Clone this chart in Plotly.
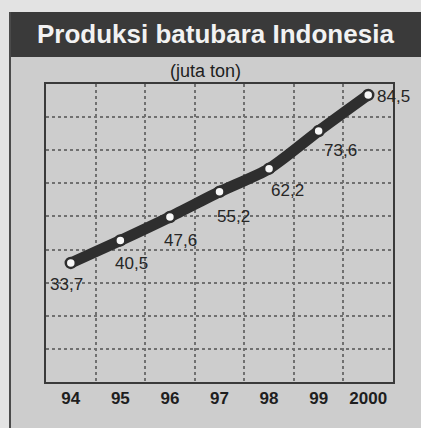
import plotly.graph_objects as go

years = ["94", "95", "96", "97", "98", "99", "2000"]
production = [33.7, 40.5, 47.6, 55.2, 62.2, 73.6, 84.5]
value_labels = ["33,7", "40,5", "47,6", "55,2", "62,2", "73,6", "84,5"]
title_text = "Produksi batubara Indonesia"
unit_text = "(juta ton)"

# label offsets (pixels) relative to each point
label_dx = [-4, 11, 11, 14, 18, 22, 25]
label_dy = [-22, -23, -24, -25, -22, -20, -2]

W, H = 421, 428
ML, MR, MT, MB = 46, 28, 84, 46
pw, ph = W - ML - MR, H - MT - MB

def px(x):
    return (x - ML) / pw

def py(y):
    return (H - MB - y) / ph

fig = go.Figure()
fig.add_trace(go.Scatter(
    x=years, y=production, mode="lines+markers",
    line=dict(color="#2e2e2e", width=11, shape="spline", smoothing=0.7),
    marker=dict(size=10, color="#f6f6f6", line=dict(color="#2e2e2e", width=2.5)),
    hoverinfo="skip", showlegend=False,
))

annotations = []
for i, (v, t, dx, dy) in enumerate(zip(production, value_labels, label_dx, label_dy)):
    annotations.append(dict(
        x=i, y=v, text=t, showarrow=False, xshift=dx, yshift=dy,
        font=dict(family="Liberation Sans Narrow, Arial Narrow, Liberation Sans, Arial", size=17, color="#262626"),
    ))

annotations.append(dict(
    xref="paper", yref="paper", x=px(215), y=py(34), text="<b>" + title_text + "</b>",
    showarrow=False, xanchor="center", yanchor="middle",
    font=dict(family="Liberation Sans, Arial", size=26, color="#f2f2f2"),
))
annotations.append(dict(
    xref="paper", yref="paper", x=px(205), y=py(71), text=unit_text,
    showarrow=False, xanchor="center", yanchor="middle",
    font=dict(family="Liberation Sans, Arial", size=18, color="#1e1e1e"),
))

shapes = [
    # grey panel
    dict(type="rect", xref="paper", yref="paper", x0=px(10), x1=px(421), y0=py(428), y1=py(57),
         fillcolor="#cdcdcd", line=dict(width=0), layer="below"),
    # title bar
    dict(type="rect", xref="paper", yref="paper", x0=px(10), x1=px(421), y0=py(57), y1=py(12),
         fillcolor="#3a3a3a", line=dict(width=0), layer="below"),
    # left border line
    dict(type="line", xref="paper", yref="paper", x0=px(10), x1=px(10), y0=py(428), y1=py(12),
         line=dict(color="#4a4a4a", width=2)),
]

fig.update_layout(
    width=W, height=H,
    margin=dict(l=ML, r=MR, t=MT, b=MB),
    paper_bgcolor="#e3e3e3",
    plot_bgcolor="#f7f7f7",
    annotations=annotations,
    shapes=shapes,
    xaxis=dict(
        type="category", tickson="boundaries", range=[-0.5, 6.5],
        showgrid=True, gridcolor="#707070", gridwidth=1.5, griddash="dot",
        showline=True, linecolor="#3a3a3a", linewidth=1.5, mirror=True,
        ticks="", zeroline=False,
        tickfont=dict(family="Liberation Sans, Arial", size=17, color="#1e1e1e", weight="bold"),
    ),
    yaxis=dict(
        range=[-2.3, 87.8], tick0=-2.3, dtick=10.01,
        showgrid=True, gridcolor="#707070", gridwidth=1.5, griddash="dot",
        showline=True, linecolor="#3a3a3a", linewidth=1.5, mirror=True,
        showticklabels=False, ticks="", zeroline=False,
    ),
)

fig.write_html(
    "out.html",
    config={"displayModeBar": False},
    post_script="document.body.style.margin='0';document.body.style.background='#e3e3e3';",
)
